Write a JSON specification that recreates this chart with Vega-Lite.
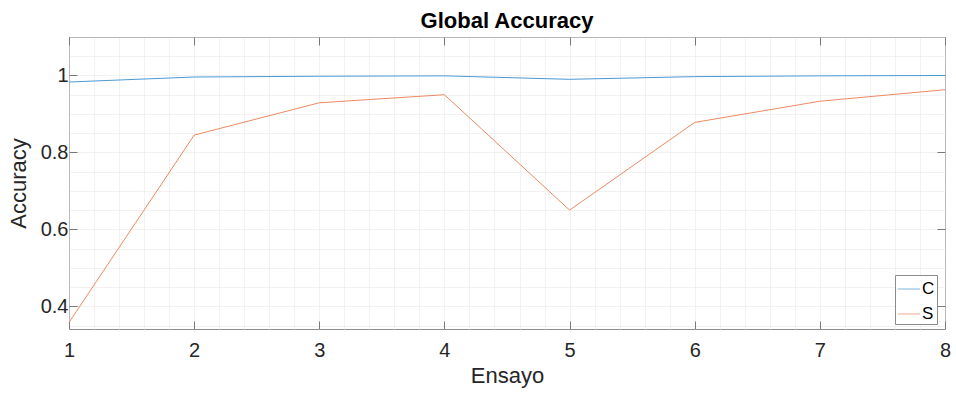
{
  "$schema": "https://vega.github.io/schema/vega-lite/v6.json",
  "autosize": "none",
  "width": 876,
  "height": 292,
  "padding": {"left": 69, "top": 37, "right": 11, "bottom": 65},
  "background": "white",
  "title": {
    "text": "Global Accuracy",
    "font": "Liberation Sans",
    "fontSize": 22,
    "fontWeight": "bold",
    "color": "#000000",
    "anchor": "middle",
    "offset": 4
  },
  "config": {
    "view": {"stroke": "#8c8c8c", "strokeWidth": 1},
    "axis": {
      "labelFont": "Liberation Sans",
      "titleFont": "Liberation Sans",
      "labelColor": "#262626",
      "titleColor": "#262626",
      "labelFontSize": 20,
      "titleFontSize": 22,
      "titleFontWeight": "normal",
      "labelFlush": false,
      "domain": false,
      "tickColor": "#7a7a7a",
      "tickSize": -8,
      "tickWidth": 1
    }
  },
  "data": {
    "values": [
      {"ensayo": 1, "serie": "C", "accuracy": 0.983},
      {"ensayo": 2, "serie": "C", "accuracy": 0.996},
      {"ensayo": 3, "serie": "C", "accuracy": 0.998},
      {"ensayo": 4, "serie": "C", "accuracy": 0.999},
      {"ensayo": 5, "serie": "C", "accuracy": 0.990},
      {"ensayo": 6, "serie": "C", "accuracy": 0.997},
      {"ensayo": 7, "serie": "C", "accuracy": 0.999},
      {"ensayo": 8, "serie": "C", "accuracy": 1.0},
      {"ensayo": 1, "serie": "S", "accuracy": 0.358},
      {"ensayo": 2, "serie": "S", "accuracy": 0.845},
      {"ensayo": 3, "serie": "S", "accuracy": 0.929},
      {"ensayo": 4, "serie": "S", "accuracy": 0.950},
      {"ensayo": 5, "serie": "S", "accuracy": 0.650},
      {"ensayo": 6, "serie": "S", "accuracy": 0.878},
      {"ensayo": 7, "serie": "S", "accuracy": 0.933},
      {"ensayo": 8, "serie": "S", "accuracy": 0.963}
    ]
  },
  "layer": [
    {
      "mark": {"type": "line", "opacity": 0},
      "encoding": {
        "x": {
          "field": "ensayo",
          "type": "quantitative",
          "scale": {"domain": [1, 8], "nice": false, "zero": false},
          "axis": {
            "orient": "top",
            "title": null,
            "labels": false,
            "values": [1, 1.2, 1.4, 1.6, 1.8, 2, 2.2, 2.4, 2.6, 2.8, 3, 3.2, 3.4, 3.6, 3.8, 4, 4.2, 4.4, 4.6, 4.8, 5, 5.2, 5.4, 5.6, 5.8, 6, 6.2, 6.4, 6.6, 6.8, 7, 7.2, 7.4, 7.6, 7.8, 8],
            "grid": true,
            "gridColor": "#e4e4e4",
            "gridDash": [1, 1],
            "gridWidth": 1,
            "tickOpacity": {"condition": {"test": "abs(datum.value - round(datum.value)) < 0.001", "value": 1}, "value": 0}
          }
        },
        "y": {
          "field": "accuracy",
          "type": "quantitative",
          "scale": {"domain": [0.341, 1.1], "nice": false, "zero": false},
          "axis": {
            "orient": "right",
            "title": null,
            "labels": false,
            "values": [0.35, 0.4, 0.45, 0.5, 0.55, 0.6, 0.65, 0.7, 0.75, 0.8, 0.85, 0.9, 0.95, 1, 1.05, 1.1],
            "grid": true,
            "gridColor": "#e4e4e4",
            "gridDash": [1, 1],
            "gridWidth": 1,
            "tickOpacity": {"condition": {"test": "indexof([0.4, 0.6, 0.8, 1], datum.value) >= 0", "value": 1}, "value": 0}
          }
        },
        "detail": {"field": "serie"}
      }
    },
    {
      "mark": {"type": "line", "strokeWidth": 1, "interpolate": "linear"},
      "encoding": {
        "x": {
          "field": "ensayo",
          "type": "quantitative",
          "scale": {"domain": [1, 8], "nice": false, "zero": false},
          "axis": {
            "orient": "bottom",
            "title": "Ensayo",
            "values": [1, 2, 3, 4, 5, 6, 7, 8],
            "grid": false,
            "labelPadding": 19,
            "titlePadding": 5
          }
        },
        "y": {
          "field": "accuracy",
          "type": "quantitative",
          "scale": {"domain": [0.341, 1.1], "nice": false, "zero": false},
          "axis": {
            "orient": "left",
            "title": "Accuracy",
            "values": [0.4, 0.6, 0.8, 1],
            "grid": false,
            "labelPadding": 9,
            "titlePadding": 10,
            "labelExpr": "datum.value === 1 ? '1' : format(datum.value, '.1f')"
          }
        },
        "color": {
          "field": "serie",
          "type": "nominal",
          "scale": {"domain": ["C", "S"], "range": ["#4a9ad6", "#ec8a62"]},
          "legend": {
            "orient": "none",
            "legendX": 826,
            "legendY": 238,
            "title": null,
            "symbolType": "stroke",
            "symbolSize": 500,
            "symbolStrokeWidth": 1.2,
            "symbolOpacity": 0.6,
            "labelFont": "Liberation Sans",
            "labelFontSize": 17,
            "labelColor": "#000000",
            "labelOffset": 1,
            "rowPadding": 5,
            "padding": 2,
            "strokeColor": "#8c8c8c",
            "fillColor": "white"
          }
        }
      }
    }
  ],
  "resolve": {"axis": {"x": "independent", "y": "independent"}}
}
